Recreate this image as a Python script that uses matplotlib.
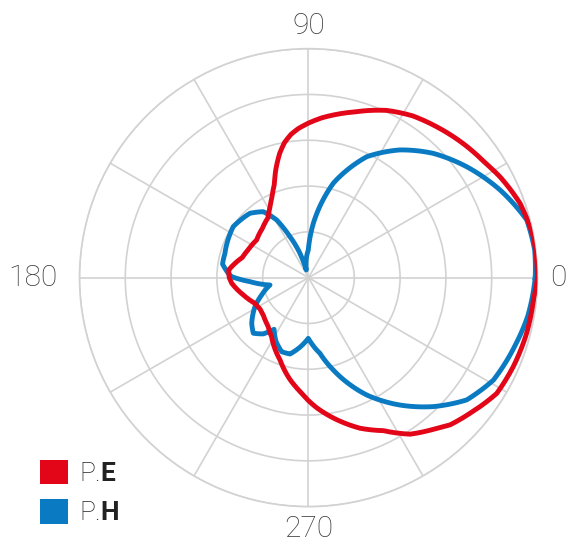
import numpy as np
import matplotlib
matplotlib.use('Agg')
import matplotlib.pyplot as plt
from matplotlib.patches import Patch

plt.rcParams['font.family'] = ['Roboto', 'Liberation Sans', 'DejaVu Sans']
plt.rcParams['mathtext.fontset'] = 'custom'
plt.rcParams['mathtext.bf'] = 'Roboto:bold'
plt.rcParams['mathtext.rm'] = 'Roboto:light'

# E-plane pattern (angle in degrees, normalised level)
e_angle = [0, 10.3, 19.4, 27.8, 33, 40, 49.5, 57.3, 65, 74.3, 81, 85.3, 90,
           94, 97, 100, 103, 107, 110, 114, 118, 124, 133, 144, 155, 163,
           174.5, 180, 184.2, 194.9, 205.6, 213, 219.5, 230, 238, 250.9,
           259.7, 265.7, 269.2, 273.7, 280, 288.9, 296.1, 303, 310.4, 313.9,
           320, 328.4, 336.5, 345.7, 354.3, 360]
e_level = [1.0, 0.998, 0.979, 0.945, 0.92, 0.897, 0.865, 0.84, 0.806, 0.752,
           0.72, 0.70, 0.675, 0.652, 0.63, 0.60, 0.558, 0.49, 0.435, 0.39,
           0.355, 0.316, 0.295, 0.28, 0.29, 0.302, 0.35, 0.346, 0.336, 0.294,
           0.259, 0.252, 0.256, 0.275, 0.304, 0.38, 0.452, 0.498, 0.53, 0.57,
           0.622, 0.695, 0.744, 0.815, 0.864, 0.892, 0.921, 0.965, 0.975,
           0.983, 0.987, 1.0]

# H-plane pattern
h_angle = [0, 7, 14.8, 24.6, 35, 44.9, 54.4, 64.3, 75.3, 84.9, 90.4, 99.9,
           106, 109.3, 114.3, 118.9, 124.4, 132.3, 145.9, 163.8, 171, 176.9,
           179.3, 183.9, 190.8, 200.3, 208.5, 218.8, 225.2, 231.2, 236.3,
           243.1, 250.1, 256.4, 263, 269.8, 276.5, 278.6, 285, 296.4, 305.7,
           314.1, 322.3, 331, 342, 350, 360]
h_level = [0.99, 0.995, 0.986, 0.92, 0.844, 0.769, 0.686, 0.586, 0.426, 0.238,
           0.121, 0.063, 0.035, 0.113, 0.196, 0.288, 0.349, 0.38, 0.397, 0.38,
           0.38, 0.351, 0.335, 0.256, 0.171, 0.218, 0.266, 0.318, 0.342, 0.315,
           0.271, 0.313, 0.344, 0.343, 0.306, 0.265, 0.318, 0.334, 0.417,
           0.572, 0.685, 0.784, 0.873, 0.923, 0.95, 0.972, 0.99]

series_names = ['E', 'H']
series_colors = ['#e30618', '#0a7bc2']
grid_color = '#d2d2d2'

# angle labels and how far out (in units of the outer ring) they sit
label_angles = [0, 90, 180, 270]
label_radius = [1.093, 1.101, 1.202, 1.098]

fig = plt.figure(figsize=(5.71, 5.43), dpi=100)
ax = fig.add_axes([0.1392, 0.0669, 0.8021, 0.8435], projection='polar')

for ang, lev, col, z in [(e_angle, e_level, series_colors[0], 3),
                         (h_angle, h_level, series_colors[1], 2)]:
    line, = ax.plot(np.radians(ang), lev, color=col, lw=3.5, zorder=z,
                    solid_joinstyle='round')
    # let the polar transform follow the angle between samples
    line.get_path()._interpolation_steps = 16

ax.set_ylim(0, 1)
ax.set_yticks([0.2, 0.4, 0.6, 0.8, 1.0])
ax.set_yticklabels([])
ax.set_xticks(np.radians(np.arange(0, 360, 30)))
ax.set_xticklabels([])
ax.grid(True, color=grid_color, lw=1.2)
ax.spines['polar'].set_color(grid_color)
ax.spines['polar'].set_linewidth(1.2)

for a, r in zip(label_angles, label_radius):
    ax.text(np.radians(a), r, str(a), ha='center', va='center', fontsize=21.5,
            color='#3a3a3a', fontweight='light', clip_on=False)

handles = [Patch(facecolor=c, edgecolor='none') for c in series_colors]
labels = ['P.$\\mathbf{%s}$' % n for n in series_names]
fig.legend(handles, labels, loc='upper left', bbox_to_anchor=(0.070, 0.1534),
           frameon=False, handlelength=1.05, handleheight=1.05,
           handletextpad=0.42, labelspacing=0.5, borderpad=0, borderaxespad=0,
           labelcolor='#222222',
           prop={'family': 'Roboto', 'weight': 'light', 'size': 19})

fig.savefig('out.png', dpi=100)
